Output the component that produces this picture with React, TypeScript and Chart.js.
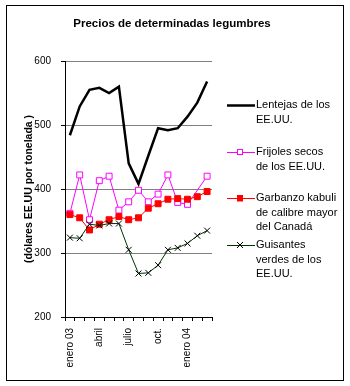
import React, { useEffect, useRef } from "react";
import { Chart, registerables } from "chart.js";

Chart.register(...registerables);

const months = [
  "ene 03", "feb 03", "mar 03", "abr 03", "may 03", "jun 03", "jul 03", "ago 03",
  "sep 03", "oct 03", "nov 03", "dic 03", "ene 04", "feb 04", "mar 04",
];
const tickLabels = ["enero 03", "", "", "abril", "", "", "julio", "", "", "oct.", "", "", "enero 04", "", ""];

const lentejas = [484, 529, 555, 558, 550, 560, 440, 408, 452, 495, 492, 495, 513, 535, 568];
const frijoles = [362, 422, 352, 413, 420, 367, 380, 398, 380, 392, 422, 379, 376, null, 420];
const garbanzo = [360, 355, 336, 345, 352, 357, 352, 355, 370, 377, 384, 385, 384, 388, 396];
const guisantes = [324, 323, 345, 343, 346, 346, 305, 268, 269, 281, 305, 308, 315, 327, 335];

const chartTitle = "Precios de determinadas legumbres";
const legendLines = [
  ["Lentejas de los", "EE.UU."],
  ["Frijoles secos", "de los EE.UU."],
  ["Garbanzo kabuli", "de calibre mayor", "del Canadá"],
  ["Guisantes", "verdes de los", "EE.UU."],
];

const FONT = 'Arial, "Liberation Sans", sans-serif';

const legendFramePlugin = {
  id: "legendFrame",
  afterDraw(chart: any) {
    const ctx = chart.ctx;
    ctx.save();
    // outer frame
    ctx.strokeStyle = "#000";
    ctx.lineWidth = 1;
    ctx.strokeRect(6.5, 5.5, 337, 375);

    // title
    ctx.fillStyle = "#000";
    ctx.font = `bold 11.5px ${FONT}`;
    ctx.textAlign = "center";
    ctx.textBaseline = "middle";
    ctx.fillText(chartTitle, 172, 23.5);

    const itemY = [105, 152, 198, 245];
    const x0 = 227, x1 = 255, tx = 256, lh = 14.5;
    chart.data.datasets.forEach((ds: any, i: number) => {
      const y = itemY[i];
      ctx.strokeStyle = ds.borderColor;
      ctx.lineWidth = ds.borderWidth;
      ctx.beginPath();
      ctx.moveTo(x0, y + 0.5);
      ctx.lineTo(x1, y + 0.5);
      ctx.stroke();
      const cx = (x0 + x1) / 2 - 1;
      if (ds.pointRadius > 0) {
        ctx.lineWidth = 1;
        ctx.strokeStyle = ds.pointBorderColor;
        ctx.fillStyle = ds.pointBackgroundColor;
        const s = 3;
        if (ds.pointStyle === "rect") {
          ctx.fillRect(cx - s, y - s + 0.5, 2 * s, 2 * s);
          ctx.strokeRect(cx - s + 0.5, y - s + 0.5, 2 * s - 1, 2 * s - 1);
        } else if (ds.pointStyle === "crossRot") {
          ctx.beginPath();
          ctx.moveTo(cx - s, y - s);
          ctx.lineTo(cx + s, y + s);
          ctx.moveTo(cx - s, y + s);
          ctx.lineTo(cx + s, y - s);
          ctx.stroke();
        }
      }
      ctx.fillStyle = "#000";
      ctx.font = `11px ${FONT}`;
      ctx.textAlign = "left";
      ctx.textBaseline = "middle";
      legendLines[i].forEach((t, k) => ctx.fillText(t, tx, y + k * lh));
    });
    ctx.restore();
  },
};

export default function App() {
  const ref = useRef<HTMLCanvasElement>(null);
  useEffect(() => {
    if (!ref.current) return;
    const chart = new Chart(ref.current, {
      type: "line",
      data: {
        labels: months,
        datasets: [
          {
            label: "Lentejas de los EE.UU.",
            data: lentejas,
            borderColor: "#000000",
            backgroundColor: "#000000",
            borderWidth: 2.5,
            pointRadius: 0,
            tension: 0,
            order: 3,
          },
          {
            label: "Frijoles secos de los EE.UU.",
            data: frijoles,
            borderColor: "#FF00FF",
            backgroundColor: "#FFFFFF",
            borderWidth: 1,
            pointStyle: "rect",
            pointRadius: 4.2,
            pointBorderColor: "#FF00FF",
            pointBackgroundColor: "#FFFFFF",
            pointBorderWidth: 1,
            spanGaps: true,
            tension: 0,
            order: 2,
          },
          {
            label: "Garbanzo kabuli de calibre mayor del Canadá",
            data: garbanzo,
            borderColor: "#FF0000",
            backgroundColor: "#FF0000",
            borderWidth: 1,
            pointStyle: "rect",
            pointRadius: 4.2,
            pointBorderColor: "#FF0000",
            pointBackgroundColor: "#FF0000",
            pointBorderWidth: 1,
            tension: 0,
            order: 1,
          },
          {
            label: "Guisantes verdes de los EE.UU.",
            data: guisantes,
            borderColor: "#003300",
            backgroundColor: "#000000",
            borderWidth: 1,
            pointStyle: "crossRot",
            pointRadius: 4.2,
            pointBorderColor: "#000000",
            pointBackgroundColor: "#000000",
            pointBorderWidth: 1,
            tension: 0,
            order: 0,
          },
        ],
      },
      options: {
        animation: false,
        responsive: false,
        devicePixelRatio: 1,
        layout: { padding: { left: 8, right: 138, top: 61, bottom: 0 } },
        plugins: {
          legend: { display: false },
          tooltip: { enabled: false },
          title: { display: false },
        },
        scales: {
          x: {
            type: "category",
            offset: true,
            grid: {
              display: true,
              offset: true,
              drawOnChartArea: false,
              drawTicks: true,
              tickLength: 4,
              tickColor: "#000",
            },
            border: { color: "#000", width: 1 },
            ticks: {
              autoSkip: false,
              maxRotation: 90,
              minRotation: 90,
              padding: 7,
              color: "#000",
              font: { family: FONT, size: 10 },
              callback: (_v: any, i: number) => tickLabels[i],
            },
            afterFit: (s: any) => {
              s.height = 69;
            },
          },
          y: {
            min: 200,
            max: 600,
            grid: { color: "#808080", tickLength: 4, tickColor: "#000" },
            border: { color: "#000", width: 1 },
            ticks: {
              stepSize: 100,
              padding: 10,
              color: "#000",
              font: { family: FONT, size: 10 },
            },
            title: {
              display: true,
              text: "(dólares EE.UU por tonelada )",
              color: "#000",
              font: { family: FONT, size: 10.5, weight: "bold", lineHeight: 1.2 },
              padding: { top: 14.5, bottom: 0 },
            },
            afterFit: (s: any) => {
              s.width = 57;
            },
          },
        },
      },
      plugins: [legendFramePlugin],
    } as any);
    return () => chart.destroy();
  }, []);
  return (
    <div style={{ position: "fixed", left: 0, top: 0, width: 350, height: 386, background: "#fff" }}>
      <canvas ref={ref} width={350} height={386} style={{ width: 350, height: 386, display: "block" }} />
    </div>
  );
}
